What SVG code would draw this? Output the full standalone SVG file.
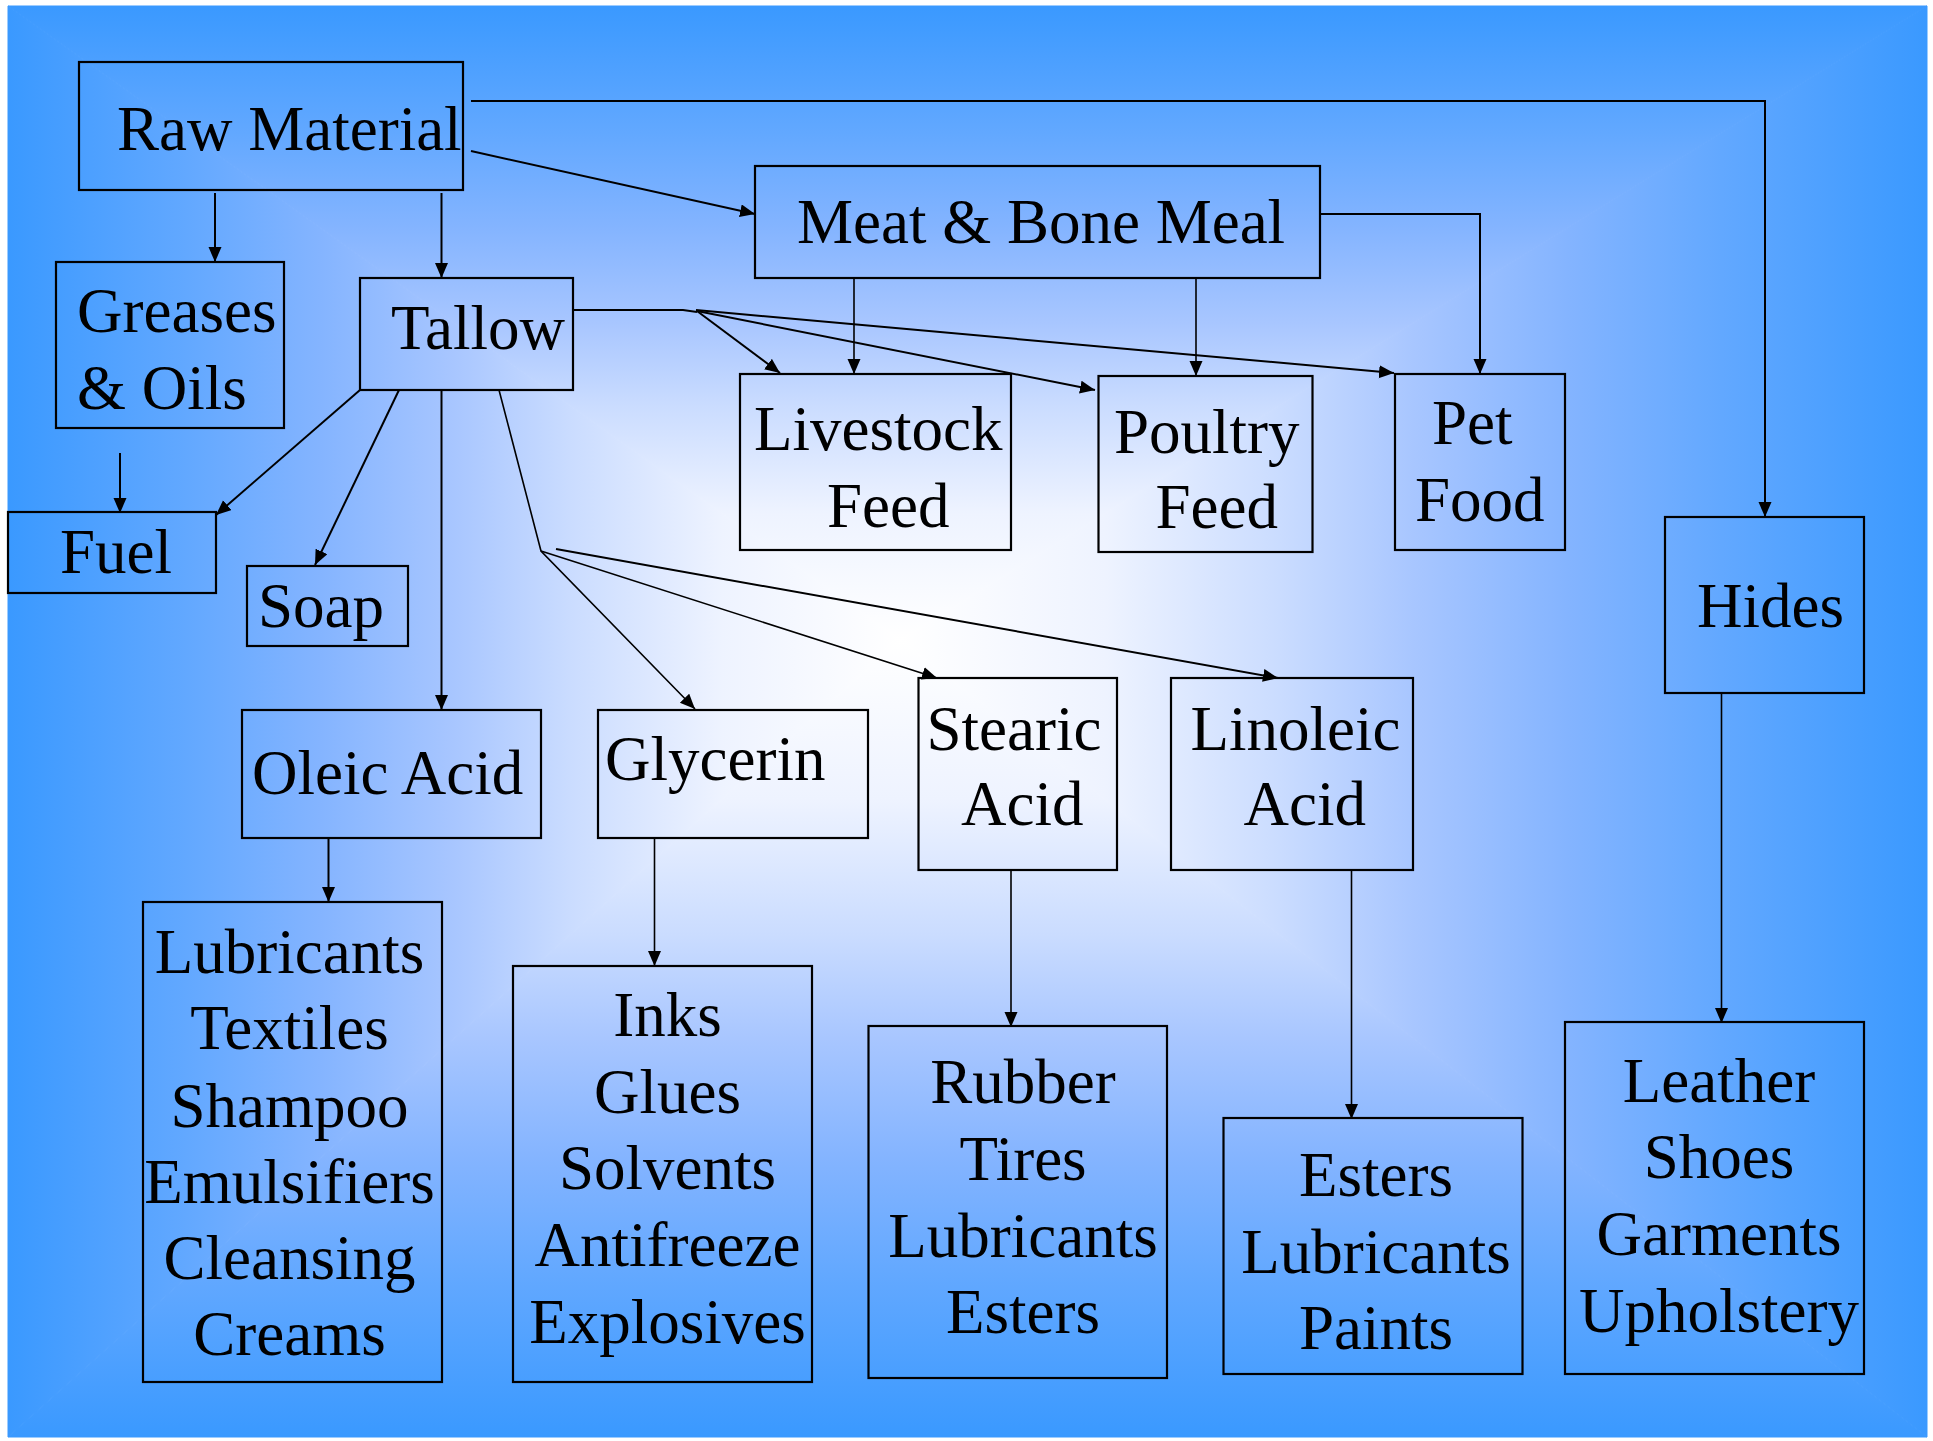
<svg xmlns="http://www.w3.org/2000/svg" width="1933" height="1441" viewBox="0 0 1933 1441">
<defs>
<style>
.box{fill:none;stroke:#000;stroke-width:2.2}
.t{font-family:"Liberation Serif","Times New Roman",serif;font-size:63px;fill:#000}
.c{text-anchor:middle}
.ln{fill:none;stroke:#000;stroke-width:2}
.thin{fill:none;stroke:#000;stroke-width:1.6}
</style>
<marker id="ah" markerUnits="userSpaceOnUse" markerWidth="16" markerHeight="14" refX="15" refY="6.5" orient="auto">
<path d="M0,0 L15,6.5 L0,13 z" fill="#000"/>
</marker>
<linearGradient id="gTop" gradientUnits="userSpaceOnUse" x1="0" y1="640" x2="0" y2="6">
<stop offset="0" stop-color="#ffffff"/><stop offset="0.2" stop-color="#eef3ff"/><stop offset="0.37" stop-color="#cadcff"/><stop offset="0.5" stop-color="#a8c6ff"/><stop offset="0.65" stop-color="#84b4ff"/><stop offset="0.8" stop-color="#62a8ff"/><stop offset="1" stop-color="#3a99ff"/>
</linearGradient>
<linearGradient id="gBot" gradientUnits="userSpaceOnUse" x1="0" y1="640" x2="0" y2="1437">
<stop offset="0" stop-color="#ffffff"/><stop offset="0.2" stop-color="#eef3ff"/><stop offset="0.37" stop-color="#cadcff"/><stop offset="0.5" stop-color="#a8c6ff"/><stop offset="0.65" stop-color="#84b4ff"/><stop offset="0.8" stop-color="#62a8ff"/><stop offset="1" stop-color="#3a99ff"/>
</linearGradient>
<linearGradient id="gLeft" gradientUnits="userSpaceOnUse" x1="900" y1="0" x2="8" y2="0">
<stop offset="0" stop-color="#ffffff"/><stop offset="0.2" stop-color="#eef3ff"/><stop offset="0.37" stop-color="#cadcff"/><stop offset="0.5" stop-color="#a8c6ff"/><stop offset="0.65" stop-color="#84b4ff"/><stop offset="0.8" stop-color="#62a8ff"/><stop offset="1" stop-color="#3a99ff"/>
</linearGradient>
<linearGradient id="gRight" gradientUnits="userSpaceOnUse" x1="900" y1="0" x2="1927" y2="0">
<stop offset="0" stop-color="#ffffff"/><stop offset="0.2" stop-color="#eef3ff"/><stop offset="0.37" stop-color="#cadcff"/><stop offset="0.5" stop-color="#a8c6ff"/><stop offset="0.65" stop-color="#84b4ff"/><stop offset="0.8" stop-color="#62a8ff"/><stop offset="1" stop-color="#3a99ff"/>
</linearGradient>
</defs>
<rect x="0" y="0" width="1933" height="1441" fill="#ffffff"/>
<g id="background">
<polygon points="8,6 1927,6 900,640" fill="url(#gTop)" stroke="url(#gTop)" stroke-width="1"/>
<polygon points="8,1437 1927,1437 900,640" fill="url(#gBot)" stroke="url(#gBot)" stroke-width="1"/>
<polygon points="8,6 8,1437 900,640" fill="url(#gLeft)" stroke="url(#gLeft)" stroke-width="1"/>
<polygon points="1927,6 1927,1437 900,640" fill="url(#gRight)" stroke="url(#gRight)" stroke-width="1"/>
</g>
<g id="connectors">
<polyline class="ln" points="471,101 1765,101 1765,517" marker-end="url(#ah)"/>
<line class="ln" x1="471" y1="151" x2="755" y2="214" marker-end="url(#ah)"/>
<line class="ln" x1="215" y1="193" x2="215" y2="262" marker-end="url(#ah)"/>
<line class="ln" x1="441.5" y1="193" x2="441.5" y2="278" marker-end="url(#ah)"/>
<line class="ln" x1="120" y1="453" x2="120" y2="513" marker-end="url(#ah)"/>
<line class="ln" x1="360" y1="390" x2="216" y2="515" marker-end="url(#ah)"/>
<line class="ln" x1="399" y1="390" x2="315" y2="565" marker-end="url(#ah)"/>
<line class="ln" x1="441.5" y1="390" x2="441.5" y2="710" marker-end="url(#ah)"/>
<polyline class="thin" points="499,390 541,551 695,709" marker-end="url(#ah)"/>
<line class="thin" x1="541" y1="551" x2="937" y2="678" marker-end="url(#ah)"/>
<line class="ln" x1="556" y1="549" x2="1278" y2="678" marker-end="url(#ah)"/>
<polyline class="ln" points="573,310 683,310 697,312"/>
<line class="ln" x1="697" y1="311" x2="780" y2="373" marker-end="url(#ah)"/>
<line class="ln" x1="697" y1="311" x2="1095" y2="390" marker-end="url(#ah)"/>
<line class="ln" x1="696" y1="310" x2="1394" y2="373" marker-end="url(#ah)"/>
<line class="thin" x1="854" y1="279" x2="854" y2="374" marker-end="url(#ah)"/>
<line class="thin" x1="1196" y1="279" x2="1196" y2="376" marker-end="url(#ah)"/>
<polyline class="ln" points="1320,214 1480,214 1480,374" marker-end="url(#ah)"/>
<line class="ln" x1="328.5" y1="838" x2="328.5" y2="902" marker-end="url(#ah)"/>
<line class="thin" x1="654.5" y1="838" x2="654.5" y2="966" marker-end="url(#ah)"/>
<line class="thin" x1="1011" y1="870" x2="1011" y2="1027" marker-end="url(#ah)"/>
<line class="thin" x1="1351.5" y1="870" x2="1351.5" y2="1119" marker-end="url(#ah)"/>
<line class="thin" x1="1721.5" y1="693" x2="1721.5" y2="1023" marker-end="url(#ah)"/>
</g>
<g id="raw-material"><rect class="box" x="79" y="62" width="384" height="128"/><text class="t" x="117" y="150">Raw Material</text></g>
<g id="meat-bone-meal"><rect class="box" x="755" y="166" width="565" height="112"/><text class="t" x="797" y="243">Meat &amp; Bone Meal</text></g>
<g id="hides"><rect class="box" x="1665" y="517" width="199" height="176"/><text class="t" x="1697" y="627">Hides</text></g>
<g id="tallow"><rect class="box" x="360" y="278" width="213" height="112"/><text class="t" x="391" y="349">Tallow</text></g>
<g id="greases-oils"><rect class="box" x="56" y="262" width="228" height="166"/><text class="t" x="77" y="332">Greases</text><text class="t" x="77" y="409">&amp; Oils</text></g>
<g id="fuel"><rect class="box" x="8" y="512" width="208" height="81"/><text class="t" x="60" y="573">Fuel</text></g>
<g id="soap"><rect class="box" x="247" y="566" width="161" height="80"/><text class="t" x="258" y="627">Soap</text></g>
<g id="oleic-acid"><rect class="box" x="242" y="710" width="299" height="128"/><text class="t" x="252" y="794">Oleic Acid</text></g>
<g id="glycerin"><rect class="box" x="598" y="710" width="270" height="128"/><text class="t" x="605" y="780">Glycerin</text></g>
<g id="stearic-acid"><rect class="box" x="918.5" y="678" width="198.5" height="192"/><text class="t" x="926.5" y="750">Stearic</text><text class="t" x="961" y="825">Acid</text></g>
<g id="linoleic-acid"><rect class="box" x="1171" y="678" width="242" height="192"/><text class="t" x="1190.5" y="750">Linoleic</text><text class="t" x="1243.5" y="825">Acid</text></g>
<g id="livestock-feed"><rect class="box" x="740" y="374" width="271" height="176"/><text class="t" x="754" y="450">Livestock</text><text class="t" x="827" y="527">Feed</text></g>
<g id="poultry-feed"><rect class="box" x="1098.5" y="376" width="214" height="176"/><text class="t" x="1114" y="453">Poultry</text><text class="t" x="1155.5" y="528">Feed</text></g>
<g id="pet-food"><rect class="box" x="1395" y="374" width="170" height="176"/><text class="t" x="1432" y="444">Pet</text><text class="t" x="1415" y="521">Food</text></g>
<g id="oleic-products"><rect class="box" x="143" y="902" width="299" height="480"/>
<text class="t c" x="289.5" y="973">Lubricants</text><text class="t c" x="289.5" y="1049">Textiles</text><text class="t c" x="289.5" y="1127">Shampoo</text><text class="t c" x="289.5" y="1203">Emulsifiers</text><text class="t c" x="289.5" y="1279">Cleansing</text><text class="t c" x="289.5" y="1355">Creams</text></g>
<g id="glycerin-products"><rect class="box" x="513" y="966" width="299" height="416"/>
<text class="t c" x="667.5" y="1036">Inks</text><text class="t c" x="667.5" y="1113">Glues</text><text class="t c" x="667.5" y="1189">Solvents</text><text class="t c" x="667.5" y="1266">Antifreeze</text><text class="t c" x="667.5" y="1343">Explosives</text></g>
<g id="stearic-products"><rect class="box" x="868.5" y="1026" width="298.5" height="352"/>
<text class="t c" x="1023" y="1103">Rubber</text><text class="t c" x="1023" y="1180">Tires</text><text class="t c" x="1023" y="1257">Lubricants</text><text class="t c" x="1023" y="1333">Esters</text></g>
<g id="linoleic-products"><rect class="box" x="1223.5" y="1118" width="299" height="256"/>
<text class="t c" x="1376" y="1196">Esters</text><text class="t c" x="1376" y="1273">Lubricants</text><text class="t c" x="1376" y="1349">Paints</text></g>
<g id="hides-products"><rect class="box" x="1565" y="1022" width="299" height="352"/>
<text class="t c" x="1719" y="1102">Leather</text><text class="t c" x="1719" y="1178">Shoes</text><text class="t c" x="1719" y="1255">Garments</text><text class="t c" x="1719" y="1332">Upholstery</text></g>
</svg>
